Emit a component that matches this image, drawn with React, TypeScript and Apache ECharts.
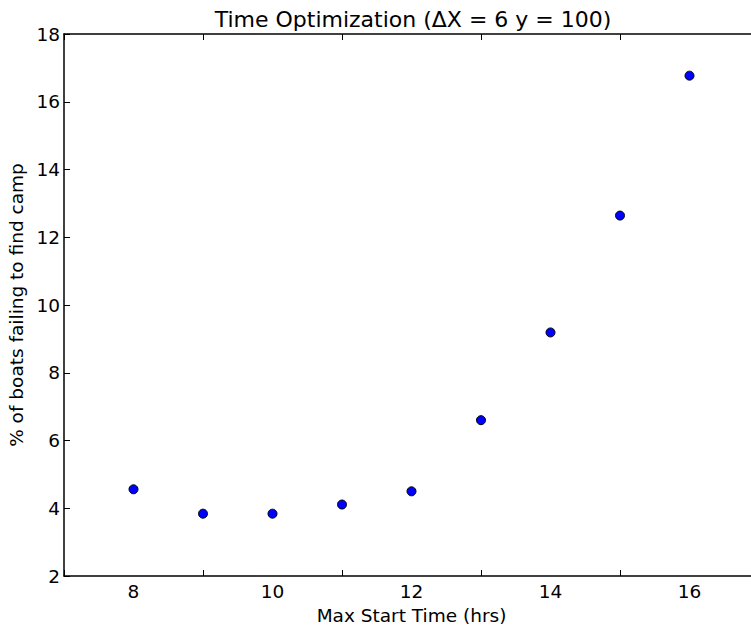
import React, { useEffect, useRef } from "react";
import * as echarts from "echarts";

const titleText = "Time Optimization (\u0394X = 6 y = 100)";
const xName = "Max Start Time (hrs)";
const yName = "% of boats failing to find camp";
const startTimes = [8, 9, 10, 11, 12, 13, 14, 15, 16];
const failPct = [4.56, 3.84, 3.84, 4.11, 4.5, 6.6, 9.19, 12.64, 16.77];

const FONT = "DejaVu Sans";

export default function App() {
  const ref = useRef<HTMLDivElement>(null);
  useEffect(() => {
    if (!ref.current) return;
    const chart = echarts.init(ref.current, null, { renderer: "svg" });
    const data = startTimes.map((x, i) => [x, failPct[i]]);
    chart.setOption({
      animation: false,
      backgroundColor: "#ffffff",
      title: {
        text: titleText,
        left: 408,
        textAlign: "center",
        top: 3,
        textStyle: { fontFamily: FONT, fontSize: 22, fontWeight: "normal", color: "#000" },
      },
      grid: { left: 64, top: 34, width: 695, height: 542, containLabel: false, outerBoundsMode: "none" },
      xAxis: [
        {
          type: "value",
          min: 7,
          max: 17,
          interval: 2,
          position: "bottom",
          name: xName,
          nameLocation: "middle",
          nameGap: 20,
          nameTextStyle: { fontFamily: FONT, fontSize: 18.5, color: "#000" },
          axisLine: { onZero: false, lineStyle: { color: "#000", width: 1.5 } },
          axisTick: { inside: true, length: 6, lineStyle: { color: "#000", width: 1 } },
          axisLabel: {
            fontFamily: FONT,
            fontSize: 18.5,
            color: "#000",
            margin: 6,
            customValues: [8, 10, 12, 14, 16],
          },
          splitLine: { show: false },
        },
        {
          type: "value",
          min: 7,
          max: 17,
          interval: 2,
          position: "top",
          axisLine: { onZero: false, lineStyle: { color: "#000", width: 1.5 } },
          axisTick: { inside: true, length: 6, lineStyle: { color: "#000", width: 1 } },
          axisLabel: { show: false },
          splitLine: { show: false },
        },
      ],
      yAxis: {
        type: "value",
        min: 2,
        max: 18,
        interval: 2,
        name: yName,
        nameLocation: "middle",
        nameGap: 34,
        nameTextStyle: { fontFamily: FONT, fontSize: 18.5, color: "#000" },
        axisLine: { show: true, onZero: false, lineStyle: { color: "#000", width: 1.5 } },
        axisTick: { show: true, inside: true, length: 6, lineStyle: { color: "#000", width: 1 } },
        axisLabel: { fontFamily: FONT, fontSize: 18.5, color: "#000", margin: 4 },
        splitLine: { show: false },
      },
      series: [
        {
          type: "scatter",
          data,
          symbol: "circle",
          symbolSize: 9,
          itemStyle: { color: "#0000ff", borderColor: "#000", borderWidth: 1, opacity: 1 },
        },
      ],
    });
    return () => chart.dispose();
  }, []);
  return (
    <div
      ref={ref}
      style={{ position: "fixed", left: 0, top: 0, width: 751, height: 625, background: "#fff" }}
    />
  );
}
